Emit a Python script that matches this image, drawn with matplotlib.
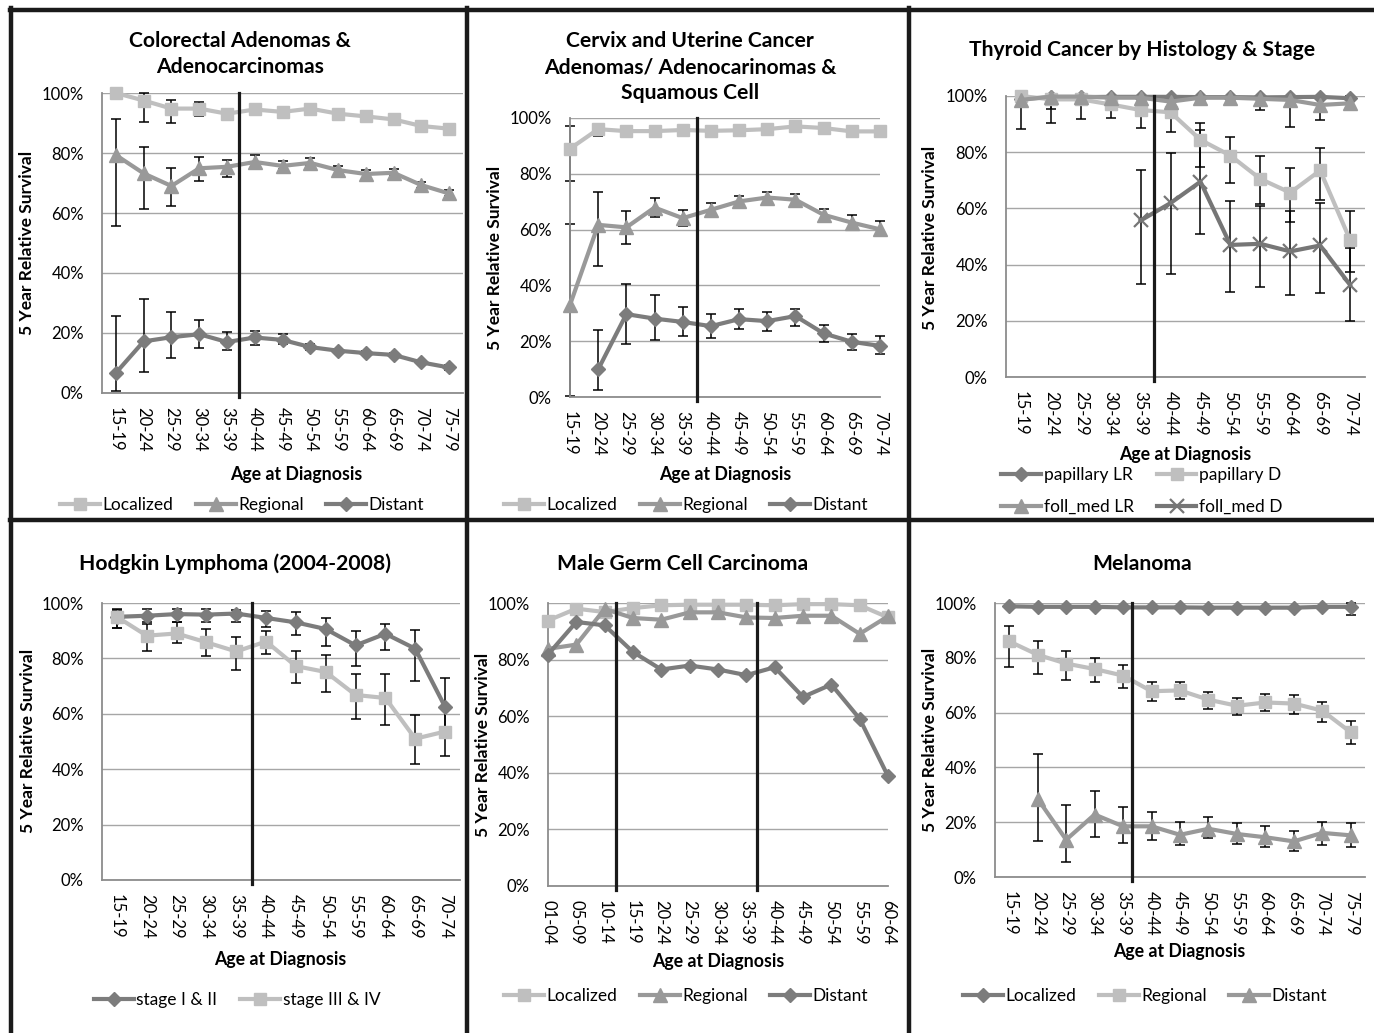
import numpy as np
import matplotlib
matplotlib.use("Agg")
import matplotlib.pyplot as plt
from matplotlib.lines import Line2D
from matplotlib.ticker import PercentFormatter

plt.rcParams['font.family'] = ['Lato', 'DejaVu Sans']

nan = np.nan

# ---- data (percent) ----
ages_15_79 = ["15-19", "20-24", "25-29", "30-34", "35-39", "40-44", "45-49",
              "50-54", "55-59", "60-64", "65-69", "70-74", "75-79"]
ages_15_74 = ages_15_79[:-1]
ages_01_64 = ["01-04", "05-09", "10-14", "15-19", "20-24", "25-29", "30-34",
              "35-39", "40-44", "45-49", "50-54", "55-59", "60-64"]

# Colorectal
crc_loc = [100, 97.5, 94.8, 94.8, 93.1, 94.5, 93.7, 94.8, 93.1, 92.2, 91.2, 89.0, 88.1]
crc_loc_lo = [nan, 90.4, 90.0, 92.2, nan, nan, nan, nan, nan, nan, nan, nan, nan]
crc_loc_hi = [nan, 100, 97.6, 97.0, nan, nan, nan, nan, nan, nan, nan, nan, nan]
crc_reg = [79.3, 73.2, 69.0, 74.9, 75.4, 77.0, 75.7, 76.7, 74.3, 73.0, 73.4, 69.3, 66.5]
crc_reg_lo = [55.7, 61.2, 62.3, 70.6, 72.0, 75.5, 74.5, 75.5, 73.0, 71.8, 72.2, 68.2, 65.5]
crc_reg_hi = [91.2, 82.0, 75.0, 78.7, 77.6, 79.3, 77.3, 78.3, 75.6, 74.2, 74.6, 70.4, 67.5]
crc_dis = [6.7, 17.2, 18.6, 19.6, 17.0, 18.5, 17.7, 15.3, 14.1, 13.3, 12.7, 10.2, 8.5]
crc_dis_lo = [0.6, 6.9, 11.6, 15.0, 14.2, 16.1, 16.2, 14.4, 13.4, 12.6, 12.0, 9.5, 7.8]
crc_dis_hi = [25.7, 31.3, 26.9, 24.4, 20.2, 20.7, 19.5, 16.2, 14.8, 14.0, 13.4, 10.9, 9.2]

# Cervix / uterine
cx_loc = [89.0, 96.0, 95.3, 95.3, 95.7, 95.4, 95.6, 96.0, 97.0, 96.4, 95.2, 95.2]
cx_loc_lo = [77.5, 93.5, nan, nan, nan, nan, nan, nan, nan, nan, nan, nan]
cx_loc_hi = [97.0, 98.0, nan, nan, nan, nan, nan, nan, nan, nan, nan, nan]
cx_reg = [33.0, 61.7, 60.8, 67.9, 64.1, 67.1, 70.1, 71.5, 70.7, 65.3, 62.5, 60.1]
cx_reg_lo = [0.5, 47.1, 54.9, 64.4, 61.3, 64.6, 68.0, 69.6, 68.6, 63.2, 60.5, 57.7]
cx_reg_hi = [62.0, 73.3, 66.7, 71.5, 67.1, 69.7, 72.2, 73.4, 72.8, 67.4, 65.3, 63.2]
cx_dis = [nan, 9.9, 29.7, 28.1, 26.9, 25.4, 27.9, 27.2, 29.0, 22.8, 19.8, 18.3]
cx_dis_lo = [nan, 2.4, 18.9, 20.4, 21.8, 21.3, 24.2, 23.6, 25.5, 19.8, 16.8, 15.3]
cx_dis_hi = [nan, 24.0, 40.5, 36.5, 32.3, 29.6, 31.7, 30.3, 31.5, 25.7, 22.5, 21.8]

# Thyroid
thy_pap_lr = [99.0, 99.5, 99.6, 99.7, 99.7, 99.7, 99.6, 99.6, 99.5, 99.6, 99.7, 99.2]
thy_pap_d = [100, 98.8, 98.8, 97.0, 95.0, 94.2, 84.4, 78.8, 70.5, 65.6, 73.5, 48.8]
thy_pap_d_lo = [nan, 95.4, nan, nan, 88.6, 87.1, 74.9, 69.2, 61.4, 55.3, 63.0, 37.3]
thy_pap_d_hi = [nan, 100, nan, nan, 99.5, 99.5, 90.5, 85.5, 78.8, 74.5, 81.6, 59.1]
thy_fm_lr = [98.6, 99.8, 99.8, 99.4, 99.4, 98.0, 99.4, 99.4, 99.0, 98.6, 96.8, 97.4]
thy_fm_lr_lo = [88.3, 90.3, 91.8, 92.0, nan, nan, nan, nan, 95.0, 89.1, 91.5, 95.0]
thy_fm_lr_hi = [100, 100, 100, 100, nan, nan, nan, nan, 100, 100, 100, 100]
thy_fm_d = [nan, nan, nan, nan, 55.7, 61.9, 69.5, 47.0, 47.4, 44.7, 46.8, 32.8]
thy_fm_d_lo = [nan, nan, nan, nan, 33.2, 36.7, 51.0, 30.2, 32.0, 29.3, 29.9, 19.9]
thy_fm_d_hi = [nan, nan, nan, nan, 73.7, 79.6, 88.0, 62.5, 60.7, 59.2, 61.8, 46.0]

# Hodgkin
hl_st12 = [95.0, 95.4, 96.0, 95.8, 96.2, 94.6, 93.0, 90.6, 84.7, 88.9, 83.5, 62.5]
hl_st12_lo = [91.0, 92.4, 93.2, 93.2, 93.2, 91.5, 88.3, 84.6, 77.4, 83.1, 71.8, 52.0]
hl_st12_hi = [97.5, 97.8, 98.0, 98.0, 97.6, 97.0, 96.6, 94.6, 90.0, 92.4, 90.4, 73.0]
hl_st34 = [95.0, 88.2, 89.0, 85.8, 82.5, 86.1, 77.2, 75.1, 66.8, 65.7, 51.0, 53.6]
hl_st34_lo = [91.0, 82.6, 85.5, 80.8, 75.9, 81.5, 71.1, 67.8, 58.3, 55.9, 41.7, 44.6]
hl_st34_hi = [98.0, 93.2, 93.0, 90.6, 87.7, 90.0, 82.5, 81.4, 74.2, 74.5, 59.5, 62.0]

# Male germ cell
gc_loc = [93.8, 98.0, 96.8, 98.2, 99.2, 99.4, 99.4, 99.4, 99.2, 99.6, 99.6, 99.2, 94.9]
gc_reg = [83.8, 85.3, 97.9, 94.7, 94.1, 96.7, 96.7, 94.9, 94.7, 95.5, 95.5, 89.1, 95.3]
gc_dis = [81.8, 93.3, 92.1, 82.7, 76.5, 77.9, 76.5, 74.5, 77.3, 66.8, 71.2, 59.1, 38.8]

# Melanoma
mel_loc = [98.8, 98.6, 98.6, 98.6, 98.4, 98.4, 98.4, 98.3, 98.3, 98.3, 98.3, 98.6, 98.6]
mel_loc_lo = [nan] * 12 + [95.5]
mel_loc_hi = [nan] * 12 + [100]
mel_reg = [86.0, 81.1, 77.9, 75.9, 73.5, 67.8, 68.1, 64.7, 62.5, 63.7, 63.3, 60.7, 52.8]
mel_reg_lo = [76.5, 74.1, 72.0, 71.0, 69.0, 64.1, 65.0, 61.3, 59.2, 60.6, 59.4, 56.4, 48.5]
mel_reg_hi = [91.7, 86.3, 82.6, 79.9, 77.3, 71.0, 71.0, 67.4, 65.3, 66.8, 66.4, 64.0, 57.1]
mel_dis = [nan, 28.5, 13.6, 22.8, 18.5, 18.5, 15.4, 17.6, 15.7, 14.5, 13.0, 16.1, 15.2]
mel_dis_lo = [nan, 13.0, 5.4, 14.6, 12.4, 13.6, 11.6, 14.2, 12.2, 10.9, 9.6, 11.8, 10.9]
mel_dis_hi = [nan, 44.9, 26.2, 31.5, 25.5, 23.7, 20.0, 21.8, 19.8, 18.5, 16.9, 20.1, 19.7]

# ---- styles ----
W, H = 1374, 1033
STYLES = {
    "sq":  dict(color="#BFBFBF", marker="s", ms=9),
    "tri": dict(color="#999999", marker="^", ms=10),
    "dia": dict(color="#7C7C7C", marker="D", ms=7),
    "x":   dict(color="#767676", marker="x", ms=10, mew=1.6),
}

fig = plt.figure(figsize=(W / 100, H / 100), dpi=100)


def fx(x):
    return x / W


def fy(y):
    return 1 - y / H


def panel(box, cats, series, on_tick, title, title_xy, ylab_xy, xlab_xy,
          leg_xy, dividers, ncol=3, leg_order=None):
    l, r, t, b = box
    ax = fig.add_axes([fx(l), fy(b), fx(r) - fx(l), fy(t) - fy(b)])
    n = len(cats)
    x = np.arange(n)
    handles = []
    for label, vals, lo, hi, sty in series:
        st = STYLES[sty]
        v = np.array(vals, dtype=float)
        if lo is not None:
            lo_a = np.array(lo, dtype=float)
            hi_a = np.array(hi, dtype=float)
            m = ~np.isnan(lo_a)
            ax.errorbar(x[m], v[m], yerr=[v[m] - lo_a[m], hi_a[m] - v[m]],
                        fmt="none", ecolor="black", elinewidth=1.1,
                        capsize=3.3, capthick=1.1, zorder=2, clip_on=False)
        h, = ax.plot(x, v, color=st["color"], lw=3, marker=st["marker"],
                     ms=st["ms"], mew=st.get("mew", 1), mec=st["color"],
                     mfc=st["color"], label=label, zorder=3, clip_on=False)
        handles.append(h)
    for d in dividers:
        ax.plot([d, d], [100, -1.5], color="#1A1A1A", lw=2.3, zorder=4,
                clip_on=False)
    if on_tick:
        ax.set_xlim(0, n - 1)
    else:
        ax.set_xlim(-0.5, n - 0.5)
    ax.set_ylim(0, 100)
    ax.set_yticks(range(0, 101, 20))
    ax.yaxis.set_major_formatter(PercentFormatter(xmax=100, decimals=0))
    ax.set_xticks(x)
    ax.set_xticklabels(cats, rotation=-90, fontsize=12)
    ax.tick_params(axis="x", length=0, pad=10)
    ax.tick_params(axis="y", length=0, pad=13, labelsize=12)
    ax.grid(axis="y", color="#A6A6A6", lw=1)
    ax.set_axisbelow(True)
    for s in ("top", "right"):
        ax.spines[s].set_visible(False)
    for s in ("left", "bottom"):
        ax.spines[s].set_color("#8C8C8C")
        ax.spines[s].set_linewidth(1.3)
    fig.text(fx(title_xy[0]), fy(title_xy[1]), title, ha="center", va="center",
             fontsize=15.2, fontweight="bold", linespacing=1.4)
    fig.text(fx(ylab_xy[0]), fy(ylab_xy[1]), "5 Year Relative Survival",
             rotation=90, ha="center", va="center", fontsize=12.5,
             fontweight="bold")
    fig.text(fx(xlab_xy[0]), fy(xlab_xy[1]), "Age at Diagnosis", ha="center",
             va="center", fontsize=12.8, fontweight="bold")
    if leg_order is not None:
        handles = [handles[i] for i in leg_order]
    ax.legend(handles=handles, loc="center", bbox_to_anchor=(fx(leg_xy[0]), fy(leg_xy[1])),
              bbox_transform=fig.transFigure, ncol=ncol, frameon=False,
              fontsize=12.5, handlelength=2.3, handletextpad=0.15,
              columnspacing=1.3, labelspacing=0.95, borderpad=0)
    return ax


panel((102, 463, 93, 393), ages_15_79,
      [("Localized", crc_loc, crc_loc_lo, crc_loc_hi, "sq"),
       ("Regional", crc_reg, crc_reg_lo, crc_reg_hi, "tri"),
       ("Distant", crc_dis, crc_dis_lo, crc_dis_hi, "dia")],
      False, "Colorectal Adenomas &\nAdenocarcinomas", (240, 54), (27, 243),
      (296, 474), (242, 505), [4.43])

panel((570, 880, 118, 397), ages_15_74,
      [("Localized", cx_loc, cx_loc_lo, cx_loc_hi, "sq"),
       ("Regional", cx_reg, cx_reg_lo, cx_reg_hi, "tri"),
       ("Distant", cx_dis, cx_dis_lo, cx_dis_hi, "dia")],
      True, "Cervix and Uterine Cancer\nAdenomas/ Adenocarinomas &\nSquamous Cell",
      (690, 67), (495, 258), (725, 474), (686, 505), [4.5])

panel((1006, 1365, 96, 377), ages_15_74,
      [("papillary LR", thy_pap_lr, None, None, "dia"),
       ("papillary D", thy_pap_d, thy_pap_d_lo, thy_pap_d_hi, "sq"),
       ("foll_med LR", thy_fm_lr, thy_fm_lr_lo, thy_fm_lr_hi, "tri"),
       ("foll_med D", thy_fm_d, thy_fm_d_lo, thy_fm_d_hi, "x")],
      False, "Thyroid Cancer by Histology & Stage", (1142, 50), (930, 238),
      (1185, 454), (1142, 491), [4.44], ncol=2, leg_order=[0, 2, 1, 3])

panel((102, 460, 603, 880), ages_15_74,
      [("stage I & II", hl_st12, hl_st12_lo, hl_st12_hi, "dia"),
       ("stage III & IV", hl_st34, hl_st34_lo, hl_st34_hi, "sq")],
      False, "Hodgkin Lymphoma (2004-2008)", (235, 564), (28, 741),
      (280, 960), (237, 1000), [4.53], ncol=2)

panel((548, 888, 603, 886), ages_01_64,
      [("Localized", gc_loc, None, None, "sq"),
       ("Regional", gc_reg, None, None, "tri"),
       ("Distant", gc_dis, None, None, "dia")],
      True, "Male Germ Cell Carcinoma", (683, 564), (483, 745),
      (718, 962), (686, 996), [2.41, 7.38])

panel((995, 1365, 603, 877), ages_15_79,
      [("Localized", mel_loc, mel_loc_lo, mel_loc_hi, "dia"),
       ("Regional", mel_reg, mel_reg_lo, mel_reg_hi, "sq"),
       ("Distant", mel_dis, mel_dis_lo, mel_dis_hi, "tri")],
      False, "Melanoma", (1142, 564), (930, 740), (1179, 952), (1145, 996),
      [4.3])

# panel frame
frame_segs = [((10, 10), (W, 10)), ((11, 8), (11, H)), ((10, 520), (W, 520)),
              ((467, 8), (467, H)), ((909, 8), (909, H))]
for (x0, y0), (x1, y1) in frame_segs:
    fig.add_artist(Line2D([fx(x0), fx(x1)], [fy(y0), fy(y1)], color="#1A1A1A",
                          lw=3.2, transform=fig.transFigure))

fig.savefig("out.png", dpi=100, facecolor="white")
